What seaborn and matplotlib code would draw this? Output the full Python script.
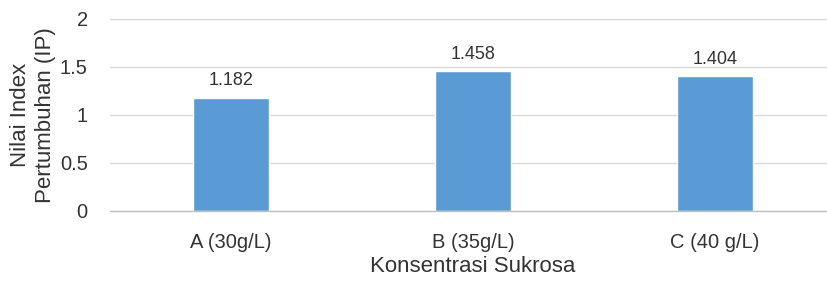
import matplotlib.pyplot as plt
import pandas as pd
import seaborn as sns

# Data
categories = ["A (30g/L)", "B (35g/L)", "C (40 g/L)"]
values = [1.182, 1.458, 1.404]
y_ticks = [0, 0.5, 1, 1.5, 2]
y_tick_labels = ["0", "0.5", "1", "1.5", "2"]

df = pd.DataFrame({"Konsentrasi": categories, "IP": values})

sns.set_theme(style="white")
plt.rcParams["font.family"] = ["Liberation Sans", "DejaVu Sans"]
text_color = "#333333"

fig = plt.figure(figsize=(8.28, 2.81), dpi=100)
ax = fig.add_axes([110 / 828, 1 - 211 / 281, 726 / 828, 192 / 281])

sns.barplot(data=df, x="Konsentrasi", y="IP", color="#5B9BD5", width=0.31,
            saturation=1, ax=ax)

ax.set_ylim(0, 2)
ax.set_yticks(y_ticks)
ax.set_yticklabels(y_tick_labels)
ax.yaxis.grid(True, color="#D9D9D9", linewidth=1)
ax.set_axisbelow(True)
for side in ["top", "right", "left"]:
    ax.spines[side].set_visible(False)
ax.spines["bottom"].set_color("#BFBFBF")
ax.spines["bottom"].set_linewidth(1)
ax.tick_params(axis="both", length=0, labelsize=14.5, colors=text_color)
ax.tick_params(axis="x", pad=16)
ax.tick_params(axis="y", pad=16)

for container in ax.containers:
    ax.bar_label(container, labels=[f"{v:.3f}" for v in values], padding=6,
                 fontsize=13, color=text_color)

ax.set_xlabel("Konsentrasi Sukrosa", fontsize=16, color=text_color, labelpad=3)
ax.set_ylabel("Nilai Index\nPertumbuhan (IP)", fontsize=16, color=text_color,
              labelpad=3, linespacing=1.25)

fig.savefig("out.png", dpi=100)
plt.close(fig)
